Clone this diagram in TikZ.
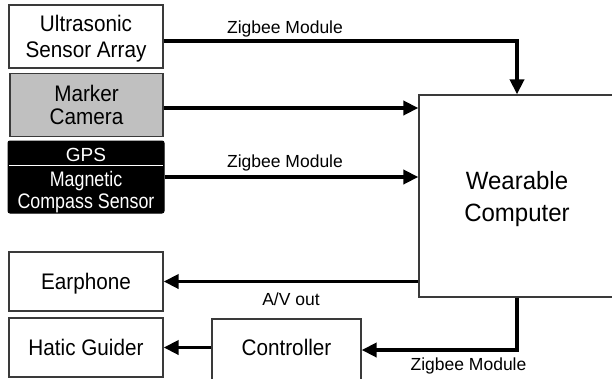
\documentclass[tikz,border=0pt]{standalone}
\usepackage{fontspec}
\setmainfont{Liberation Sans}
\usetikzlibrary{arrows.meta}
\definecolor{bord}{HTML}{3A3A3A}
\definecolor{camgray}{HTML}{C0C0C0}
\newcommand{\narrow}[1]{\scalebox{0.85}[1]{#1}}
\newcommand{\sqz}[1]{\scalebox{0.92}[1]{#1}}
\tikzset{
  blk/.style={draw=bord, line width=1.3pt, inner sep=0pt, align=center,
    text depth=0pt, font={\fontsize{22.5}{26}\selectfont}},
  arr/.style={line width=3.7pt, -{Triangle[length=15pt,width=14pt]}},
  lbl/.style={inner sep=0pt, text depth=0pt, font={\fontsize{17.5}{20}\selectfont}},
}
\begin{document}
\begin{tikzpicture}[x=1pt,y=-1pt]
\useasboundingbox (0,0) rectangle (612,378);
% boxes
\node[blk, minimum width=154pt, minimum height=63pt] (us) at (86,36.5) {\sqz{Ultrasonic}\\\sqz{Sensor Array}};
\node[blk, fill=camgray, minimum width=153pt, minimum height=63pt,
      font={\fontsize{22.5}{23}\selectfont}] (mc) at (86.5,105) {\sqz{Marker}\\\sqz{Camera}};
\node[draw=black, fill=black, rounded corners=2pt, line width=1pt, inner sep=0pt,
      minimum width=156pt, minimum height=72pt] (gps) at (86,177) {};
\draw[white, line width=1pt] ([xshift=1.5pt,yshift=-25pt]gps.north west) -- ([xshift=-1.5pt,yshift=-25pt]gps.north east);
\node[text=white, inner sep=0pt, text depth=0pt, font={\fontsize{19}{22}\selectfont}] (gpst) at (86,154.5) {GPS};
\node[text=white, inner sep=0pt, text depth=0pt, align=center,
      font={\fontsize{21}{22}\selectfont}] (magt) at (86,189.5) {\narrow{Magnetic}\\\narrow{Compass Sensor}};
\node[blk, minimum width=196pt, minimum height=202pt,
      font={\fontsize{25}{32}\selectfont}] (wc) at (517,196) {\scalebox{0.96}[1]{Wearable}\\\scalebox{0.96}[1]{Computer}};
\node[blk, minimum width=154pt, minimum height=59pt] (ep) at (86,281.5) {\sqz{Earphone}};
\node[blk, minimum width=154pt, minimum height=59pt] (hg) at (86,347.5) {\sqz{Hatic Guider}};
\node[blk, minimum width=149pt, minimum height=62pt, text depth=5.6pt] (ctrl) at (286.5,350) {\sqz{Controller}};
% connectors
\coordinate (usout) at ([yshift=-4.5pt]us.east);
\coordinate (mcout) at ([yshift=-3pt]mc.east);
\draw[arr] (usout) -| (wc.north);
\draw[arr] (mcout) -- (mcout -| wc.west);
\draw[arr] (gps.east) -- (gps.east -| wc.west);
\draw[arr] (wc.west |- ep.east) -- (ep.east);
\draw[arr] (wc.south) |- (ctrl.east);
\draw[arr] (ctrl.west |- hg.east) -- (hg.east);
% labels
\node[lbl] (z1) at (285,27) {Zigbee Module};
\node[lbl] (z2) at (285,161) {Zigbee Module};
\node[lbl] (av) at (291,299) {A/V out};
\node[lbl] (z3) at (468.5,364.5) {Zigbee Module};
\end{tikzpicture}
\end{document}
